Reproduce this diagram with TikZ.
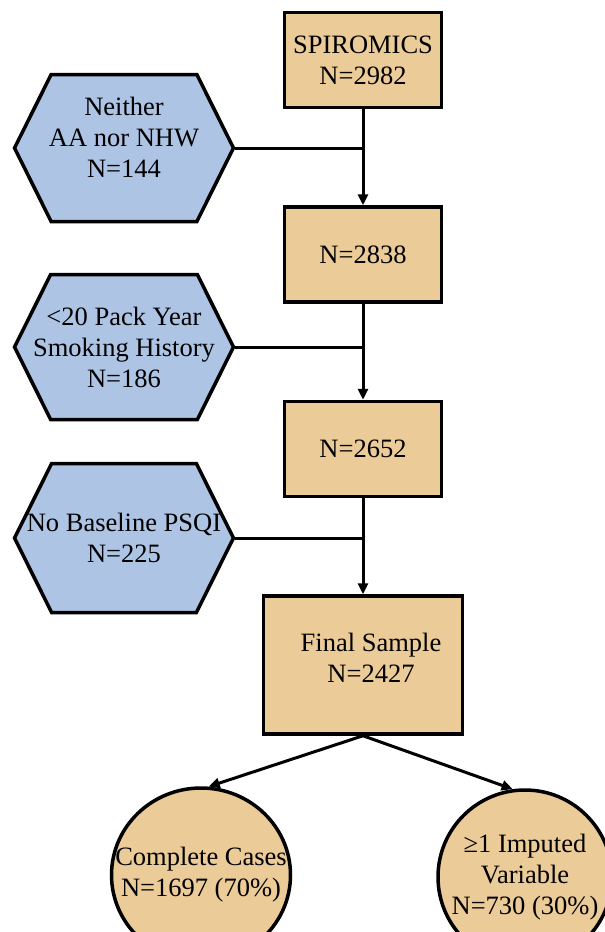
\documentclass[tikz,border=0pt]{standalone}
\usepackage{fontspec}
\setmainfont{Liberation Serif}
\usetikzlibrary{positioning, shapes.geometric, shapes.symbols, arrows.meta}
\definecolor{boxtan}{RGB}{235,203,152}
\definecolor{hexblue}{RGB}{174,196,228}

\begin{document}
\begin{tikzpicture}[x=1pt, y=-1pt, font=\fontsize{26.5}{31}\selectfont]
	\useasboundingbox (0,0) rectangle (605,932);

	% sample counts down the middle column
	\begin{scope}[every node/.style={draw, line width=3.5pt, fill=boxtan, align=center,
	              minimum width=157pt, minimum height=95pt}]
	\node at (363,60)        (spi) {SPIROMICS\\N=2982};
	\node [below=96pt of spi] (n1)  {N=2838};
	\node [below=96pt of n1]  (n2)  {N=2652};
	\node [below=96pt of n2, minimum width=199pt, minimum height=138pt, text depth=14pt] (fin)
		{\hspace*{16pt}Final Sample\\\hspace*{16pt}N=2427};
	\end{scope}

	% exclusions on the left, negative sep keeps the text from widening the shape
	\begin{scope}[every node/.style={draw, line width=3.5pt, fill=hexblue, align=center,
	              signal, signal to=west and east, signal pointer angle=127,
	              minimum width=219pt, inner xsep=-30pt, inner ysep=0pt}]
	\node [minimum height=147pt, text depth=22pt] at (124,148) (hx1) {Neither\\AA nor NHW\\N=144};
	\node [minimum height=145pt] at (124,347) (hx2) {<20 Pack Year\\Smoking History\\N=186};
	\node [minimum height=149pt] at (124,538) (hx3) {No Baseline PSQI\\N=225};
	\end{scope}

	% final split
	\begin{scope}[every node/.style={draw, line width=3.5pt, fill=boxtan, align=center,
	              ellipse, inner xsep=-25pt, inner ysep=-12pt}]
	\node [minimum width=179pt, minimum height=174pt] at (201,875) (cc)  {Complete Cases\\N=1697 (70\%)};
	\node [minimum width=174pt, minimum height=174pt] at (525,877) (imp) {≥1 Imputed\\Variable\\N=730 (30\%)};
	\end{scope}

	\begin{scope}[every path/.style={draw, line width=3pt},
	              >={Triangle[length=11pt, width=10pt]}]
		\draw [->] (spi) -- (n1);
		\draw [->] (n1) -- (n2);
		\draw [->] (n2) -- (fin);
		\draw (hx1.east) -- (hx1.east -| spi);
		\draw (hx2.east) -- (hx2.east -| n1);
		\draw (hx3.east) -- (hx3.east -| n2);
		\draw [->] (fin.south) -- (cc.85);
		\draw [->] (fin.south) -- (imp.98);
	\end{scope}

\end{tikzpicture}
\end{document}
